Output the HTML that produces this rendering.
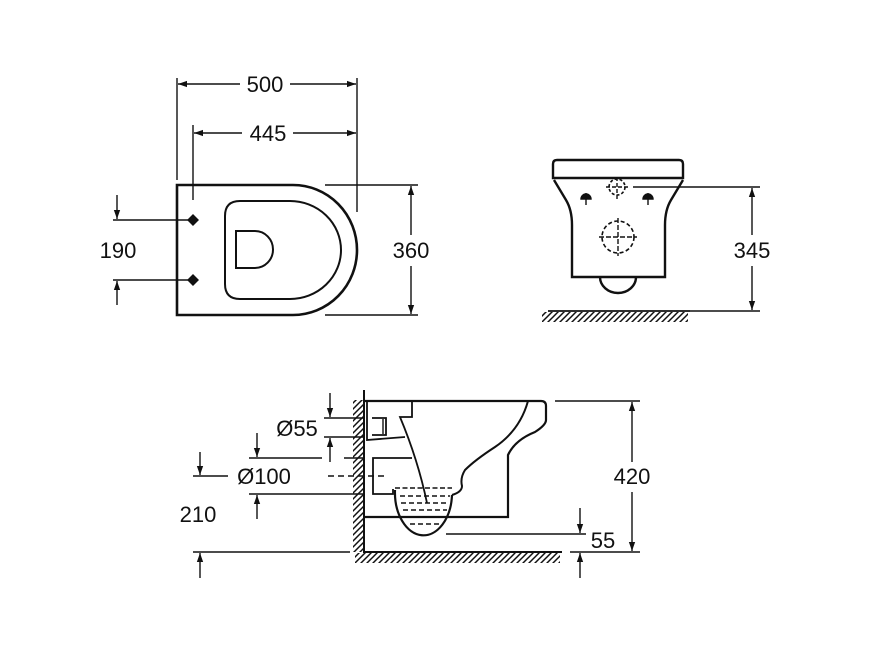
<!DOCTYPE html>
<html><head><meta charset="utf-8"><style>
html,body{margin:0;padding:0;background:#fff;}
svg{display:block;}
text{font-family:"Liberation Sans",sans-serif;font-size:22px;fill:#111;}
</style></head><body>
<svg width="870" height="652" viewBox="0 0 870 652" xmlns="http://www.w3.org/2000/svg">
<defs>
<marker id="a" viewBox="0 0 10 10" refX="10" refY="5" markerWidth="9" markerHeight="9" orient="auto-start-reverse" markerUnits="userSpaceOnUse"><path d="M0,1.5 L10,5 L0,8.5 z" fill="#111"/></marker>
<pattern id="h" width="6" height="6" patternUnits="userSpaceOnUse"><path d="M6,0 L0,6 M-1,1 L1,-1 M5,7 L7,5" stroke="#111" stroke-width="1.5"/></pattern>
</defs>
<g stroke="#111" fill="none" stroke-width="1.4">
<!-- TOP VIEW -->
<path d="M177,185 L293,185 A64,65 0 0 1 293,315 L177,315 Z" stroke-width="2.6"/>
<path d="M240,201 L290,201 A51,49 0 0 1 290,299 L240,299 Q225,299 225,284 L225,216 Q225,201 240,201 Z" stroke-width="2"/>
<path d="M236,231 L255,231 A18,18.5 0 0 1 255,268 L236,268 Z" stroke-width="2"/>
<line x1="177" y1="78" x2="177" y2="180"/>
<line x1="357" y1="78" x2="357" y2="212"/>
<line x1="193" y1="125" x2="193" y2="200"/>
<line x1="240" y1="84" x2="178" y2="84" marker-end="url(#a)"/>
<line x1="290" y1="84" x2="356" y2="84" marker-end="url(#a)"/>
<line x1="242" y1="133" x2="194" y2="133" marker-end="url(#a)"/>
<line x1="293" y1="133" x2="356" y2="133" marker-end="url(#a)"/>
<line x1="113" y1="220" x2="193" y2="220"/>
<line x1="113" y1="280" x2="193" y2="280"/>
<line x1="117" y1="195" x2="117" y2="219" marker-end="url(#a)"/>
<line x1="117" y1="305" x2="117" y2="281" marker-end="url(#a)"/>
<path d="M193,215 L198,220 L193,225 L188,220 Z" fill="#111"/>
<path d="M193,275 L198,280 L193,285 L188,280 Z" fill="#111"/>
<line x1="325" y1="185" x2="418" y2="185"/>
<line x1="325" y1="315" x2="418" y2="315"/>
<line x1="411" y1="235" x2="411" y2="186" marker-end="url(#a)"/>
<line x1="411" y1="266" x2="411" y2="314" marker-end="url(#a)"/>
<!-- FRONT VIEW -->
<path d="M557,160 L679,160 Q683,160 683,164 L683,178 L553,178 L553,164 Q553,160 557,160 Z" stroke-width="2.4"/>
<path d="M554,180 L566,200 Q572,210 572,225 L572,277 L665,277 L665,225 Q665,210 671,200 L683,180" stroke-width="2.4"/>
<path d="M600,277 A18,16 0 0 0 636,277" stroke-width="2.4"/>
<circle cx="617" cy="187" r="8" stroke-dasharray="3,2" stroke-width="1.6"/>
<line x1="606" y1="187" x2="628" y2="187" stroke-dasharray="4,2"/>
<line x1="617" y1="177" x2="617" y2="199" stroke-dasharray="4,2"/>
<circle cx="618" cy="237" r="16" stroke-dasharray="4,2.5" stroke-width="1.6"/>
<line x1="599" y1="237" x2="637" y2="237" stroke-dasharray="5,2"/>
<line x1="618" y1="218" x2="618" y2="256" stroke-dasharray="5,2"/>
<path d="M581,199 A5,5 0 0 1 591,199 Z M586,193 L586,205" fill="#111"/>
<path d="M643,199 A5,5 0 0 1 653,199 Z M648,193 L648,205" fill="#111"/>
<line x1="633" y1="187" x2="760" y2="187"/>
<line x1="690" y1="311" x2="760" y2="311"/>
<line x1="752" y1="235" x2="752" y2="188" marker-end="url(#a)"/>
<line x1="752" y1="266" x2="752" y2="310" marker-end="url(#a)"/>
<line x1="548" y1="311" x2="690" y2="311" stroke-width="1.8"/>
<rect x="542" y="312" width="146" height="10" fill="url(#h)" stroke="none"/>
<!-- SIDE VIEW -->
<line x1="364" y1="390" x2="364" y2="553" stroke-width="2"/>
<rect x="353" y="400" width="11" height="152" fill="url(#h)" stroke="none"/>
<line x1="364" y1="552" x2="562" y2="552" stroke-width="2"/>
<rect x="355" y="553" width="205" height="10" fill="url(#h)" stroke="none"/>
<path d="M365,401 L541,401 Q546,401 546,406 L546,420 Q546,425 535,432 Q515,440 508,455 L508,517 L365,517" stroke-width="2.2"/>
<path d="M528,401 Q520,430 495,447 Q475,460 465,470 Q460,478 462,486 Q462,492 452,495" stroke-width="2"/>
<path d="M395,488 L452,488" stroke-dasharray="5,2.5"/>
<path d="M395,490 A28,42 0 0 0 452,495" stroke-width="2.2"/>
<g stroke-dasharray="5,3">
<line x1="400" y1="496" x2="450" y2="496"/>
<line x1="401" y1="503" x2="449" y2="503"/>
<line x1="403" y1="510" x2="447" y2="510"/>
<line x1="406" y1="517" x2="444" y2="517"/>
<line x1="410" y1="524" x2="440" y2="524"/>
</g>
<path d="M367,401 L367,440 L405,437" stroke-width="1.8"/>
<path d="M412,401 L412,417 L400,417 Q418,460 427,503" stroke-width="1.8"/>
<path d="M372,418 L386,418 L386,435 L372,435" stroke-width="1.8"/>
<line x1="383" y1="419" x2="383" y2="434"/>
<path d="M412,458 L373,458 L373,494 L393,494 L393,489" stroke-width="1.8"/>
<!-- side dims -->
<line x1="324" y1="418" x2="364" y2="418"/>
<line x1="324" y1="437" x2="364" y2="437"/>
<line x1="330" y1="393" x2="330" y2="417" marker-end="url(#a)"/>
<line x1="330" y1="462" x2="330" y2="438" marker-end="url(#a)"/>
<line x1="249" y1="458" x2="322" y2="458"/>
<line x1="344" y1="458" x2="364" y2="458"/>
<line x1="249" y1="494" x2="364" y2="494"/>
<line x1="257" y1="433" x2="257" y2="457" marker-end="url(#a)"/>
<line x1="257" y1="519" x2="257" y2="495" marker-end="url(#a)"/>
<line x1="193" y1="476" x2="228" y2="476"/>
<line x1="328" y1="476" x2="384" y2="476" stroke-dasharray="6,4"/>
<line x1="200" y1="452" x2="200" y2="475" marker-end="url(#a)"/>
<line x1="193" y1="552" x2="350" y2="552"/>
<line x1="200" y1="578" x2="200" y2="553" marker-end="url(#a)"/>
<line x1="555" y1="401" x2="640" y2="401"/>
<line x1="570" y1="552" x2="640" y2="552"/>
<line x1="632" y1="462" x2="632" y2="402" marker-end="url(#a)"/>
<line x1="632" y1="492" x2="632" y2="551" marker-end="url(#a)"/>
<line x1="446" y1="534" x2="586" y2="534"/>
<line x1="580" y1="508" x2="580" y2="533" marker-end="url(#a)"/>
<line x1="580" y1="578" x2="580" y2="553" marker-end="url(#a)"/>
</g>
<text x="265" y="92" text-anchor="middle">500</text>
<text x="268" y="141" text-anchor="middle">445</text>
<text x="118" y="258" text-anchor="middle">190</text>
<text x="411" y="258" text-anchor="middle">360</text>
<text x="752" y="258" text-anchor="middle">345</text>
<text x="297" y="436" text-anchor="middle">Ø55</text>
<text x="264" y="484" text-anchor="middle">Ø100</text>
<text x="198" y="522" text-anchor="middle">210</text>
<text x="632" y="484" text-anchor="middle">420</text>
<text x="603" y="548" text-anchor="middle">55</text>
</svg>
</body></html>
